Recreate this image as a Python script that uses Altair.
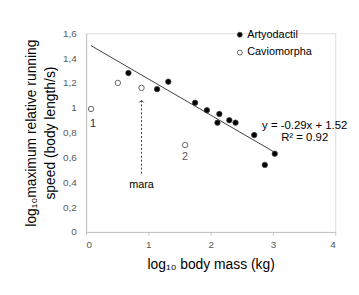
import altair as alt
import pandas as pd

# Artyodactil (filled)
art_x = [0.68, 1.14, 1.32, 1.75, 1.94, 2.14, 2.11, 2.30, 2.40, 2.70, 2.87, 3.03]
art_y = [1.28, 1.15, 1.21, 1.04, 0.98, 0.95, 0.88, 0.90, 0.88, 0.78, 0.54, 0.63]
# Caviomorpha (open)
cav_x = [0.08, 0.51, 0.89, 1.59]
cav_y = [0.99, 1.20, 1.16, 0.70]

groups = ["Artyodactil", "Caviomorpha"]

# regression line end points
reg_x = [0.08, 3.05]
reg_y = [1.50, 0.635]

# annotations
num_labels = ["1", "2"]
num_x = [0.11, 1.59]
num_y = [0.87, 0.60]
num_colors = ["#1f2d5c", "#595959"]

mara_x = [0.89]
mara_y = [0.38]
arrow_y = [0.47, 1.06]

eq_lines = ["y = -0.29x + 1.52", "R² = 0.92"]
eq_x = [3.51, 3.51]
eq_y = [0.85, 0.755]

x_ticks = [0, 1, 2, 3, 4]
y_ticks = [0, 0.2, 0.4, 0.6, 0.8, 1.0, 1.2, 1.4, 1.6]

FONT = "Liberation Sans"

pts = pd.DataFrame({
    "x": art_x + cav_x,
    "y": art_y + cav_y,
    "g": [groups[0]] * len(art_x) + [groups[1]] * len(cav_x),
})

xs = alt.Scale(domain=[0, 4], nice=False, zero=False)
ys = alt.Scale(domain=[0, 1.6], nice=False, zero=False)

x_axis = alt.Axis(values=x_ticks, format="d", grid=False, domainColor="#bfbfbf",
                  tickColor="#bfbfbf", tickSize=3, labelPadding=5, labelFontSize=10,
                  labelColor="#595959", labelFont=FONT, labelOverlap=False,
                  title="log₁₀ body mass (kg)",
                  titleFont=FONT, titleFontSize=14, titleFontWeight="normal",
                  titleColor="#000000", titlePadding=8)
y_axis = alt.Axis(values=y_ticks, grid=False,
                  labelExpr="replace(format(datum.value, '.1~f'), '.', ',')",
                  domainColor="#bfbfbf", ticks=False, labelPadding=10, labelFontSize=10,
                  labelColor="#595959", labelFont=FONT, labelOverlap=False,
                  title=["log₁₀maximum relative running", "speed (body length/s)"],
                  titleFont=FONT, titleFontSize=14, titleFontWeight="normal",
                  titleColor="#000000", titlePadding=5, titleLineHeight=19)


def X(field="x"):
    return alt.X(f"{field}:Q", scale=xs, axis=x_axis)


def Y(field="y"):
    return alt.Y(f"{field}:Q", scale=ys, axis=y_axis)


reg = alt.Chart(pd.DataFrame({"x": reg_x, "y": reg_y})).mark_line(
    color="#404040", strokeWidth=1).encode(x=X(), y=Y())

points = alt.Chart(pts).mark_point(filled=True, size=30, strokeWidth=0.8, opacity=1).encode(
    x=X(), y=Y(),
    fill=alt.Fill("g:N", scale=alt.Scale(domain=groups, range=["#000000", "#ffffff"]),
                  legend=alt.Legend(title=None, orient="none", legendX=150, legendY=-4,
                                    symbolType="circle", symbolSize=25,
                                    symbolStrokeColor="#404040", symbolStrokeWidth=0.8,
                                    labelFont=FONT, labelFontSize=11, labelColor="#000000",
                                    labelOffset=2, rowPadding=6, padding=0)),
    stroke=alt.value("#404040"),
)

nums = alt.Chart(pd.DataFrame({"x": num_x, "y": num_y, "t": num_labels, "c": num_colors})).mark_text(
    font=FONT, fontSize=11).encode(
    x=X(), y=Y(), text="t:N", color=alt.Color("c:N", scale=None))

mara = alt.Chart(pd.DataFrame({"x": mara_x, "y": mara_y, "t": ["mara"]})).mark_text(
    font=FONT, fontSize=11, color="#000000").encode(x=X(), y=Y(), text="t:N")

arrow_line = alt.Chart(pd.DataFrame({"x": mara_x, "y": [arrow_y[0]], "y2": [arrow_y[1]]})).mark_rule(
    color="#404040", strokeDash=[2, 2], strokeWidth=1).encode(x=X(), y=Y(), y2="y2:Q")

arrow_head = alt.Chart(pd.DataFrame({"x": mara_x, "y": [arrow_y[1]]})).mark_point(
    shape="M-1,1L0,0L1,1", filled=False, size=20, color="#404040", strokeWidth=1, opacity=1).encode(
    x=X(), y=Y())

eq = alt.Chart(pd.DataFrame({"x": eq_x, "y": eq_y, "t": eq_lines})).mark_text(
    font=FONT, fontSize=11.5, color="#000000").encode(x=X(), y=Y(), text="t:N")

chart = alt.layer(reg, arrow_line, arrow_head, points, nums, mara, eq).properties(
    width=252, height=201,
    autosize=alt.AutoSizeParams(type="none"),
    padding={"left": 79, "top": 24, "right": 16, "bottom": 40},
).configure_view(stroke=None).configure(background="#ffffff")

chart.save("out.html", embed_options={"renderer": "svg", "actions": False})
